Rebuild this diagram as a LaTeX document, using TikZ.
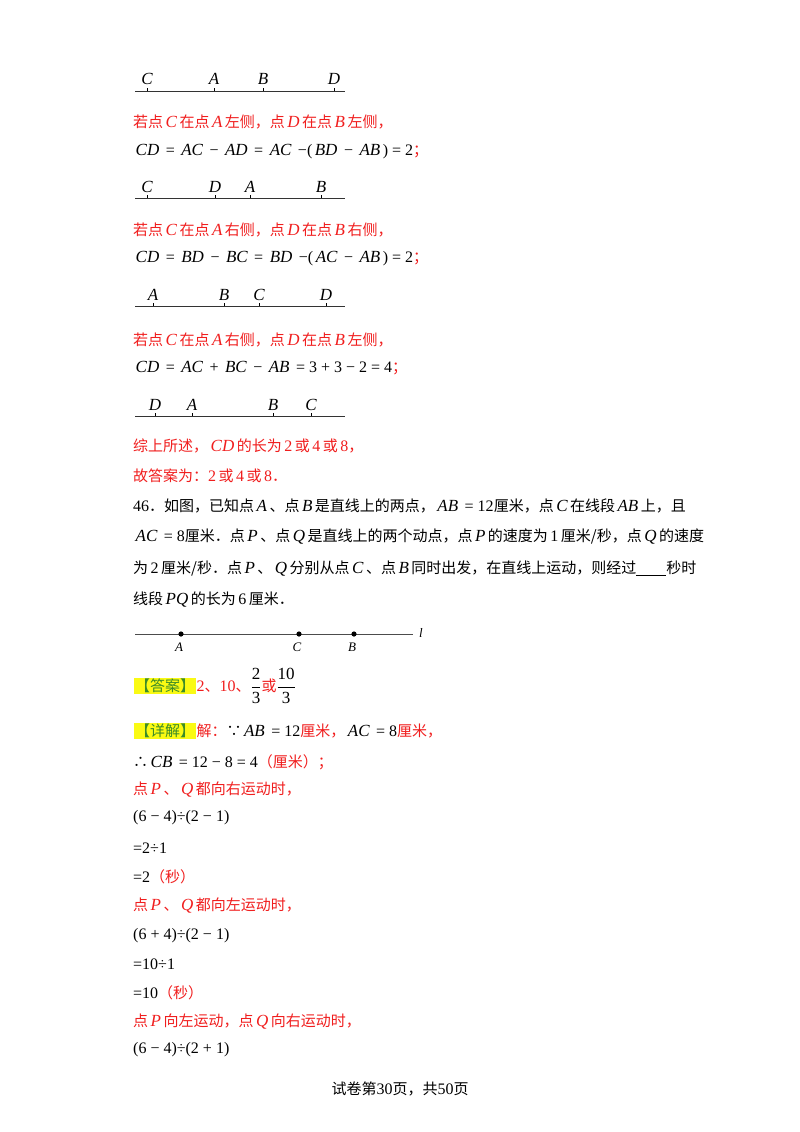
\documentclass[tikz,border=0pt]{standalone}
\usepackage{fontspec}
\setmainfont{Noto Sans CJK SC}
\newfontfamily\mf{Liberation Serif}
\newcommand{\mi}[1]{\,{\mf\itshape\fontsize{17}{18}\selectfont #1}\,}
\newcommand{\mn}[1]{{\mf\fontsize{16}{18}\selectfont #1}}
\definecolor{rd}{RGB}{240,30,30}
\definecolor{hl}{RGB}{250,250,20}
\definecolor{gr}{RGB}{60,140,40}
\begin{document}
\begin{tikzpicture}[x=1pt,y=-1pt,
  txt/.style={anchor=west,inner sep=0pt,font=\fontsize{15}{17}\selectfont},
  red/.style={txt,text=rd},
  lbl/.style={inner sep=0pt,font=\fontsize{17}{18}\selectfont\mf\itshape},
  seg/.style={line width=1pt,draw=black!80},
  tag/.style={txt,fill=hl,text=gr,inner sep=1pt}]
\useasboundingbox (0,0) rectangle (800,1132);
% line 1
\coordinate (l1a) at (135,91); \coordinate (l1b) at (345,91);
\draw[seg] (l1a) -- (l1b);
\foreach \n/\x in {C/147,A/214,B/263,D/334}{\draw (\x,91) -- (\x,88); \node[lbl] (a\n) at (\x,79) {\n};}
\node[red] (r1) at (133,122) {若点\mi{C}在点\mi{A}左侧，点\mi{D}在点\mi{B}左侧，};
\node[txt] (e1) at (133,152) {\mi{CD}\mn{ = }\mi{AC}\mn{ − }\mi{AD}\mn{ = }\mi{AC}\mn{ −(}\mi{BD}\mn{ − }\mi{AB}\mn{) = 2}\textcolor{rd}{；}};
% line 2
\coordinate (l2a) at (135,198); \coordinate (l2b) at (345,198);
\draw[seg] (l2a) -- (l2b);
\foreach \n/\x in {C/147,D/215,A/250,B/321}{\draw (\x,198) -- (\x,195); \node[lbl] (b\n) at (\x,187) {\n};}
\node[red] (r2) at (133,230) {若点\mi{C}在点\mi{A}右侧，点\mi{D}在点\mi{B}右侧，};
\node[txt] (e2) at (133,259) {\mi{CD}\mn{ = }\mi{BD}\mn{ − }\mi{BC}\mn{ = }\mi{BD}\mn{ −(}\mi{AC}\mn{ − }\mi{AB}\mn{) = 2}\textcolor{rd}{；}};
% line 3
\coordinate (l3a) at (135,306); \coordinate (l3b) at (345,306);
\draw[seg] (l3a) -- (l3b);
\foreach \n/\x in {A/153,B/224,C/259,D/326}{\draw (\x,306) -- (\x,303); \node[lbl] (c\n) at (\x,295) {\n};}
\node[red] (r3) at (133,340) {若点\mi{C}在点\mi{A}右侧，点\mi{D}在点\mi{B}左侧，};
\node[txt] (e3) at (133,368) {\mi{CD}\mn{ = }\mi{AC}\mn{ + }\mi{BC}\mn{ − }\mi{AB}\mn{ = 3 + 3 − 2 = 4}\textcolor{rd}{；}};
% line 4
\coordinate (l4a) at (135,416); \coordinate (l4b) at (345,416);
\draw[seg] (l4a) -- (l4b);
\foreach \n/\x in {D/155,A/192,B/273,C/311}{\draw (\x,416) -- (\x,413); \node[lbl] (d\n) at (\x,405) {\n};}
\node[red] (r4) at (133,446) {综上所述，\mi{CD}的长为\,\mn{2}\,或\,\mn{4}\,或\,\mn{8}，};
\node[red] (r5) at (133,476) {故答案为：\mn{2}\,或\,\mn{4}\,或\,\mn{8}．};
% problem
\node[txt] (p1) at (133,506) {\mn{46}．如图，已知点\mi{A}、点\mi{B}是直线上的两点，\mi{AB}\mn{ = 12}厘米，点\mi{C}在线段\mi{AB}上，且};
\node[txt] (p2) at (133,537) {\mi{AC}\mn{ = 8}厘米．点\mi{P}、点\mi{Q}是直线上的两个动点，点\mi{P}的速度为\,\mn{1}\,厘米/秒，点\mi{Q}的速度};
\node[txt] (p3) at (133,569) {为\,\mn{2}\,厘米/秒．点\mi{P}、\mi{Q}分别从点\mi{C}、点\mi{B}同时出发，在直线上运动，则经过\underline{\hspace{30pt}}秒时};
\node[txt] (p4) at (133,600) {线段\mi{PQ}的长为\,\mn{6}\,厘米．};
% number line
\coordinate (nl0) at (135,634); \coordinate (nl1) at (413,634);
\draw[line width=0.9pt,draw=black!70] (nl0) -- (nl1);
\node[lbl,font=\fontsize{13}{14}\selectfont\mf\itshape] (nl) at (421,633) {l};
\foreach \n/\x in {A/181,C/299,B/354}{\fill (\x,634) circle (2.6); \node[lbl,font=\fontsize{13}{14}\selectfont\mf\itshape] (n\n) at (\x-2,647) {\n};}
% answer
\node[tag] (t1) at (134,686) {【答案】};
\node[red,anchor=west] (ans) at (t1.east) {\mn{2}、\mn{10}、\textcolor{black}{\fontsize{17}{18}\selectfont\mf$\displaystyle\frac{\mbox{2}}{\mbox{3}}$}或\textcolor{black}{\fontsize{17}{18}\selectfont\mf$\displaystyle\frac{\mbox{10}}{\mbox{3}}$}};
\node[tag] (t2) at (134,731) {【详解】};
\node[red,anchor=west] (s1) at (t2.east) {解：\textcolor{black}{∵\mi{AB}\mn{ = 12}}厘米，\textcolor{black}{\mi{AC}\mn{ = 8}}厘米，};
\node[txt] (s2) at (133,762) {∴\mi{CB}\mn{ = 12 − 8 = 4}\textcolor{rd}{（厘米）；}};
\node[red] (s3) at (133,790) {点\mi{P}、\mi{Q}都向右运动时，};
\node[txt] (s4) at (133,818) {\mn{(6 − 4)÷(2 − 1)}};
\node[txt] (s5) at (133,848) {\mn{=2÷1}};
\node[txt] (s6) at (133,877) {\mn{=2}\textcolor{rd}{（秒）}};
\node[red] (s7) at (133,906) {点\mi{P}、\mi{Q}都向左运动时，};
\node[txt] (s8) at (133,936) {\mn{(6 + 4)÷(2 − 1)}};
\node[txt] (s9) at (133,964) {\mn{=10÷1}};
\node[txt] (s10) at (133,993) {\mn{=10}\textcolor{rd}{（秒）}};
\node[red] (s11) at (133,1022) {点\mi{P}向左运动，点\mi{Q}向右运动时，};
\node[txt] (s12) at (133,1050) {\mn{(6 − 4)÷(2 + 1)}};
\node[txt,anchor=center] (ft) at (400,1089) {试卷第\mn{30}页，共\mn{50}页};
\end{tikzpicture}
\end{document}
